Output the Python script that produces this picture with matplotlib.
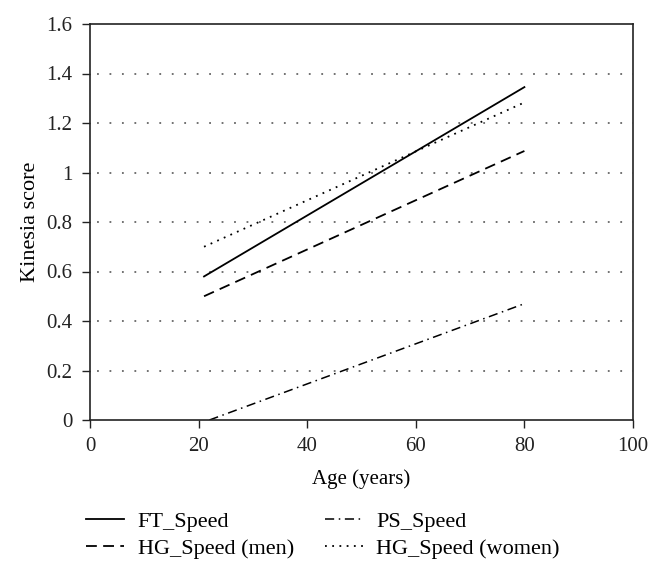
import matplotlib
matplotlib.use("Agg")
import matplotlib.pyplot as plt

# Data: start/end points of each regression line
ft_x = [21, 80]
ft_y = [0.58, 1.345]
hg_men_x = [21, 80]
hg_men_y = [0.50, 1.087]
ps_x = [22, 80]
ps_y = [0.0, 0.47]
hg_women_x = [21, 80]
hg_women_y = [0.70, 1.283]

x_ticks = [0, 20, 40, 60, 80, 100]
y_ticks = [0, 0.2, 0.4, 0.6, 0.8, 1.0, 1.2, 1.4, 1.6]
y_tick_labels = ["0", "0.2", "0.4", "0.6", "0.8", "1", "1.2", "1.4", "1.6"]

plt.rcParams['font.family'] = ['Liberation Serif', 'DejaVu Serif']

fig = plt.figure(figsize=(6.62, 5.73), dpi=100)
ax = fig.add_axes([90/662, 1 - 420/573, (633-90)/662, (420-24)/573])

for yv in y_ticks[1:-1]:
    ax.axhline(yv, color='#666666', linestyle=(3, (1, 5.9)), linewidth=1.3, zorder=0)

l1, = ax.plot(ft_x, ft_y, color='black', linestyle='-', linewidth=1.3, label='FT_Speed')
l2, = ax.plot(hg_men_x, hg_men_y, color='black', linestyle=(0, (6, 3.5)), linewidth=1.3, label='HG_Speed (men)')
l3, = ax.plot(ps_x, ps_y, color='black', linestyle=(0, (6, 3, 1, 3)), linewidth=1.1, label='PS_Speed')
l4, = ax.plot(hg_women_x, hg_women_y, color='black', linestyle=(0, (1, 3)), linewidth=1.3, label='HG_Speed (women)')

ax.set_xlim(0, 100)
ax.set_ylim(0, 1.6)
ax.set_xticks(x_ticks)
ax.set_yticks(y_ticks)
ax.set_yticklabels(y_tick_labels)
ax.tick_params(direction='out', length=5.5, width=1.0, labelsize=15, colors='#222222')
ax.tick_params(axis='x', pad=7)
ax.tick_params(axis='y', pad=7)
for s in ax.spines.values():
    s.set_linewidth(1.2)
    s.set_color('#222222')

ax.set_xlabel('Age (years)', fontsize=15, labelpad=9)
ax.set_ylabel('Kinesia score', fontsize=16, labelpad=5)

fig.legend(handles=[l1, l2, l3, l4], loc='upper left', bbox_to_anchor=(82/662, 1 - 507/573),
           ncol=2, frameon=False, fontsize=16, handlelength=1.7, columnspacing=1.4,
           labelspacing=0.3, handletextpad=0.6, borderaxespad=0, borderpad=0.2)

fig.savefig('out.png', dpi=100)
